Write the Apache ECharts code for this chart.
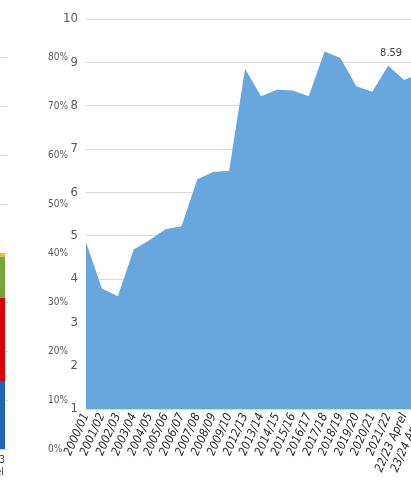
<!DOCTYPE html>
<html>
<head>
<meta charset="utf-8">
<style>
  html, body { margin: 0; padding: 0; background: #ffffff; }
  #chart { width: 411px; height: 498px; }
</style>
<script src="https://cdn.jsdelivr.net/npm/echarts@6/dist/echarts.min.js"></script>
</head>
<body>
<div id="chart"></div>
<script>
// Academic years on the area chart
const years = [
  '2000/01', '2001/02', '2002/03', '2003/04', '2004/05', '2005/06', '2006/07',
  '2007/08', '2008/09', '2009/10', '2012/13', '2013/14', '2014/15', '2015/16',
  '2016/17', '2017/18', '2018/19', '2019/20', '2020/21', '2021/22',
  '22/23 Aprel', '23/24 Aprel'
];
const yearValues = [
  4.85, 3.78, 3.60, 4.68, 4.90, 5.15, 5.22,
  6.30, 6.47, 6.50, 8.85, 8.22, 8.37, 8.35,
  8.22, 9.25, 9.10, 8.45, 8.32, 8.92,
  8.59, 8.75
];
// Only this point carries a printed value
const labelledYear = '22/23 Aprel';

// Share breakdown on the neighbouring stacked column
const shareCategories = ['22/23\nAprel'];
const shareBlue = [0.139];
const shareRed = [0.170];
const shareGreen = [0.084];
const shareYellow = [0.007];

const narrow = "'DejaVu Sans Condensed', 'Liberation Sans Narrow', sans-serif";

const chart = echarts.init(document.getElementById('chart'), null, { renderer: 'canvas' });

const areaData = yearValues.map((v, i) => {
  if (years[i] === labelledYear) {
    return {
      value: v,
      label: {
        show: true,
        position: 'top',
        offset: [-13, -16],
        formatter: (p) => Number(p.value).toFixed(2),
        fontFamily: narrow,
        fontSize: 11,
        color: '#404040'
      }
    };
  }
  return v;
});

const stackSeries = (name, data, color) => ({
  name: name,
  type: 'bar',
  stack: 'share',
  xAxisIndex: 1,
  yAxisIndex: 1,
  barWidth: 26,
  data: data,
  itemStyle: { color: color },
  silent: true
});

chart.setOption({
  animation: false,
  grid: [
    { left: 86, top: 19, width: 334, height: 390, containLabel: false, outerBoundsMode: 'none' },
    { left: -24, width: 32, top: 57, height: 392, containLabel: false, outerBoundsMode: 'none' }
  ],
  xAxis: [
    {
      type: 'category',
      gridIndex: 0,
      data: years,
      boundaryGap: false,
      axisLine: { show: false },
      axisTick: { show: false },
      axisLabel: {
        interval: 0,
        rotate: 66,
        margin: 5,
        fontFamily: narrow,
        fontStyle: 'italic',
        fontSize: 12,
        color: '#262626'
      }
    },
    {
      type: 'category',
      gridIndex: 1,
      data: shareCategories,
      axisLine: { show: true, lineStyle: { color: '#d9d9d9' } },
      axisTick: { show: false },
      axisLabel: {
        margin: 5,
        fontFamily: narrow,
        fontSize: 10,
        lineHeight: 12,
        color: '#404040'
      }
    }
  ],
  yAxis: [
    {
      type: 'value',
      gridIndex: 0,
      min: 1,
      max: 10,
      interval: 1,
      axisLine: { show: false },
      axisTick: { show: false },
      axisLabel: {
        margin: 8,
        fontFamily: narrow,
        fontSize: 13,
        color: '#595959'
      },
      splitLine: { lineStyle: { color: '#d9d9d9', width: 1 } }
    },
    {
      type: 'value',
      gridIndex: 1,
      position: 'right',
      min: 0,
      max: 0.8,
      interval: 0.1,
      axisLine: { show: false },
      axisTick: { show: false },
      axisLabel: {
        margin: 40,
        fontFamily: narrow,
        fontSize: 10,
        color: '#595959',
        formatter: (v) => Math.round(v * 100) + '%'
      },
      splitLine: { lineStyle: { color: '#d9d9d9', width: 1 } }
    }
  ],
  series: [
    {
      name: 'Main',
      type: 'line',
      xAxisIndex: 0,
      yAxisIndex: 0,
      data: areaData,
      symbol: 'circle',
      symbolSize: 1,
      showSymbol: true,
      itemStyle: { color: 'rgba(0,0,0,0)' },
      lineStyle: { width: 0 },
      areaStyle: { color: '#67a7dd', opacity: 1, origin: 'start' },
      silent: true
    },
    stackSeries('Blue', shareBlue, '#1f63b6'),
    stackSeries('Red', shareRed, '#d80000'),
    stackSeries('Green', shareGreen, '#76a33c'),
    stackSeries('Yellow', shareYellow, '#f2bf1d')
  ]
});
</script>
</body>
</html>
